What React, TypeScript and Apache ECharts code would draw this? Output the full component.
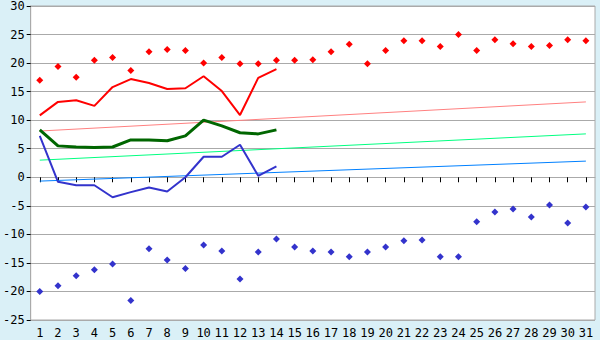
import React, { useEffect, useRef } from "react";
import * as echarts from "echarts";

const days = ["1","2","3","4","5","6","7","8","9","10","11","12","13","14","15","16","17","18","19","20","21","22","23","24","25","26","27","28","29","30","31"];

const maxPoints = [17, 19.4, 17.5, 20.5, 21, 18.7, 22, 22.4, 22.2, 20, 21, 19.9, 19.9, 20.5, 20.5, 20.6, 22, 23.3, 19.9, 22.2, 23.9, 23.9, 22.9, 25, 22.2, 24.1, 23.4, 22.9, 23.1, 24.1, 23.9];
const minPoints = [-20, -19, -17.25, -16.2, -15.2, -21.6, -12.5, -14.5, -16, -11.85, -12.9, -17.8, -13.1, -10.8, -12.2, -12.9, -13.1, -13.9, -13.1, -12.2, -11.1, -11, -13.9, -13.9, -7.8, -6.1, -5.55, -6.95, -4.85, -8, -5.2];

const maxLine = [10.85, 13.2, 13.5, 12.5, 15.8, 17.2, 16.5, 15.45, 15.6, 17.7, 15.1, 10.9, 17.4, 18.95];
const meanLine = [8.3, 5.5, 5.3, 5.2, 5.3, 6.55, 6.55, 6.4, 7.25, 10, 9, 7.8, 7.6, 8.3];
const minLine = [7.25, -0.8, -1.4, -1.4, -3.5, -2.6, -1.8, -2.5, 0, 3.6, 3.6, 5.7, 0.25, 1.9];

const trendMax = [["1", 8.1], ["31", 13.2]];
const trendMean = [["1", 3.0], ["31", 7.6]];
const trendMin = [["1", -0.67], ["31", 2.83]];

const yTicks = { min: -25, max: 30, interval: 5 };

export default function App() {
  const ref = useRef<HTMLDivElement>(null);
  useEffect(() => {
    if (!ref.current) return;
    const chart = echarts.init(ref.current, null, { renderer: "svg" });
    const font = "DejaVu Sans Mono";
    const lineSeries = (data: any[], color: string, width: number, z: number) => ({
      type: "line",
      data,
      showSymbol: false,
      symbol: "none",
      lineStyle: { color, width },
      itemStyle: { color },
      z,
      silent: true,
    });
    chart.setOption({
      animation: false,
      backgroundColor: "#daf0f7",
      grid: {
        left: 26,
        right: 5,
        top: 5,
        bottom: 20,
        show: true,
        backgroundColor: "#ffffff",
        borderColor: "#aaaaaa",
        borderWidth: 1,
      },
      xAxis: {
        type: "category",
        data: days,
        boundaryGap: true,
        axisLine: { show: true, lineStyle: { color: "#aaaaaa" } },
        axisTick: { show: true, alignWithLabel: true, length: 5, lineStyle: { color: "#000" } },
        axisLabel: { color: "#000", fontFamily: font, fontSize: 12, margin: 7, interval: 0 },
        splitLine: { show: false },
      },
      yAxis: {
        type: "value",
        min: yTicks.min,
        max: yTicks.max,
        interval: yTicks.interval,
        axisLine: { show: true, lineStyle: { color: "#aaaaaa" } },
        axisTick: { show: true, length: 4, lineStyle: { color: "#000" } },
        axisLabel: { color: "#000", fontFamily: font, fontSize: 12, margin: 6 },
        splitLine: { show: true, lineStyle: { color: "#aaaaaa", width: 1 } },
      },
      series: [
        lineSeries(trendMax, "#ff8080", 1, 2),
        lineSeries(trendMean, "#00ff80", 1, 2),
        lineSeries(trendMin, "#0080ff", 1, 2),
        lineSeries(maxLine, "#ff0000", 2, 3),
        lineSeries(meanLine, "#006600", 3, 3),
        lineSeries(minLine, "#3333cc", 2, 3),
        {
          type: "scatter",
          data: maxPoints,
          symbol: "diamond",
          symbolSize: 7,
          itemStyle: { color: "#ff0000", opacity: 1 },
          z: 4,
        },
        {
          type: "scatter",
          data: minPoints,
          symbol: "diamond",
          symbolSize: 7,
          itemStyle: { color: "#3333cc", opacity: 1 },
          z: 4,
        },
      ],
    });
    return () => chart.dispose();
  }, []);
  return <div ref={ref} style={{ position: "fixed", left: 0, top: 0, width: 600, height: 340 }} />;
}
